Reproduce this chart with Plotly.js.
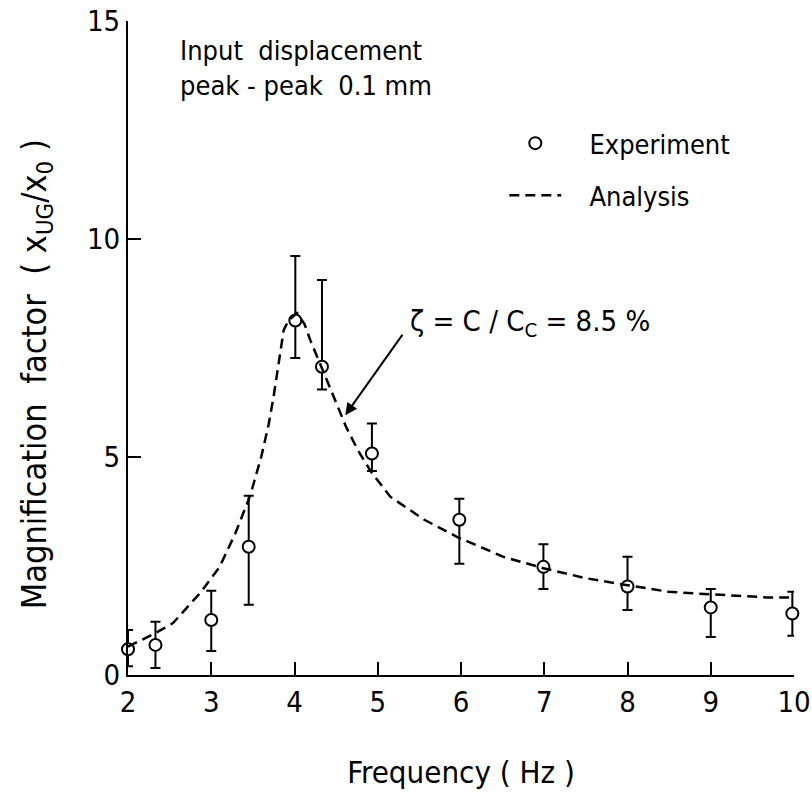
<!DOCTYPE html>
<html>
<head>
<meta charset="utf-8">
<script src="https://cdn.plot.ly/plotly-3.0.1.min.js"></script>
<style>html,body{margin:0;padding:0;background:#fff;}#chart{width:812px;height:801px;}</style>
</head>
<body>
<div id="chart"></div>
<script>
// Experiment data (frequency in Hz, magnification factor)
const expFreq  = [2.0, 2.33, 3.0, 3.45, 4.01, 4.33, 4.93, 5.98, 6.99, 8.0, 9.0, 9.98];
const expMean  = [0.59, 0.69, 1.26, 2.94, 8.13, 7.07, 5.08, 3.56, 2.48, 2.03, 1.55, 1.41];
const expUpper = [1.03, 1.22, 1.93, 4.11, 9.61, 9.06, 5.77, 4.04, 3.00, 2.71, 1.97, 1.91];
const expLower = [0.20, 0.16, 0.55, 1.61, 7.27, 6.55, 4.68, 2.55, 1.97, 1.49, 0.87, 0.90];

// Analysis curve
const anaFreq = [2.0, 2.33, 2.54, 2.88, 3.1, 3.29, 3.47, 3.6, 3.69, 3.75, 3.81, 3.87, 3.93, 4.03, 4.12, 4.19, 4.29, 4.52, 4.62, 4.76, 4.92, 5.15, 5.56, 5.95, 6.51, 6.99, 7.5, 8.0, 8.49, 9.0, 9.68, 10.0];
const anaMag  = [0.65, 0.96, 1.19, 1.91, 2.48, 3.25, 4.13, 5.0, 5.75, 6.4, 7.15, 7.91, 8.14, 8.3, 8.05, 7.68, 7.22, 6.15, 5.69, 5.16, 4.66, 4.09, 3.56, 3.17, 2.71, 2.45, 2.22, 2.06, 1.91, 1.85, 1.78, 1.78];

const xTicks = [2, 3, 4, 5, 6, 7, 8, 9, 10];
const yTicks = [0, 5, 10, 15];

const FONT = "'DejaVu Sans Condensed', 'Liberation Sans Narrow', 'DejaVu Sans', sans-serif";
const NB = '\u00a0';

const errPlus  = expUpper.map((u, i) => +(u - expMean[i]).toFixed(3));
const errMinus = expLower.map((l, i) => +(expMean[i] - l).toFixed(3));

const traces = [
  {
    x: expFreq, y: expMean, type: 'scatter', mode: 'markers', name: NB + NB + NB + 'Experiment',
    legendgroup: 'a', cliponaxis: false,
    marker: {symbol: 'circle', size: 12, color: '#fff', line: {color: '#000', width: 2}},
    error_y: {type: 'data', symmetric: false, array: errPlus, arrayminus: errMinus,
              color: '#000', thickness: 2, width: 5}
  },
  {
    x: anaFreq, y: anaMag, type: 'scatter', mode: 'lines', name: NB + NB + NB + 'Analysis',
    legendgroup: 'b', cliponaxis: false,
    line: {color: '#000', width: 2.5, dash: '10px,6px'}
  }
];

const layout = {
  width: 812, height: 801,
  paper_bgcolor: '#fff', plot_bgcolor: '#fff',
  margin: {l: 128, r: 18, t: 21, b: 126},
  font: {family: FONT, color: '#000', size: 26},
  showlegend: true,
  legend: {x: 0.565, y: 0.85, xanchor: 'left', yanchor: 'top', bgcolor: 'rgba(0,0,0,0)',
           font: {family: FONT, size: 27}, itemwidth: 52, traceorder: 'grouped', tracegroupgap: 14},
  xaxis: {
    range: [2, 10], tickvals: xTicks, ticktext: xTicks.map(String),
    showgrid: false, zeroline: false, showline: true, linecolor: '#000', linewidth: 2,
    ticks: 'inside', ticklen: 13, tickwidth: 2, tickcolor: '#000',
    tickfont: {family: FONT, size: 29}, ticklabeloverflow: 'allow',
    title: {text: 'Frequency ( Hz )', font: {family: FONT, size: 31}, standoff: 44}
  },
  yaxis: {
    range: [0, 15], tickvals: yTicks, ticktext: yTicks.map(String),
    showgrid: false, zeroline: false, showline: true, linecolor: '#000', linewidth: 2,
    ticks: 'inside', ticklen: 13, tickwidth: 2, tickcolor: '#000',
    tickfont: {family: FONT, size: 29}
  },
  annotations: [
    {xref: 'paper', yref: 'paper', x: 0, xshift: -92, y: 0.46, textangle: -90,
     xanchor: 'center', yanchor: 'middle', showarrow: false,
     text: 'Magnification  factor  ( x<sub>UG</sub>/x<sub>0</sub> )', font: {family: FONT, size: 34}},
    {x: 2.6, y: 14.72, xref: 'x', yref: 'y', xanchor: 'left', yanchor: 'top', align: 'left',
     showarrow: false, text: 'Input  displacement<br>peak - peak  0.1 mm', font: {family: FONT, size: 27}},
    {x: 5.36, y: 8.07, xref: 'x', yref: 'y', xanchor: 'left', yanchor: 'middle',
     showarrow: false, text: 'ζ = C / C<sub>C</sub> = 8.5 %', font: {family: FONT, size: 29}},
    {x: 4.61, y: 5.96, xref: 'x', yref: 'y', axref: 'x', ayref: 'y', ax: 5.31, ay: 7.84,
     text: '', showarrow: true, arrowhead: 2, arrowsize: 1.2, arrowwidth: 2, arrowcolor: '#000', standoff: 0}
  ]
};

Plotly.newPlot('chart', traces, layout, {displayModeBar: false, staticPlot: true});
</script>
</body>
</html>
